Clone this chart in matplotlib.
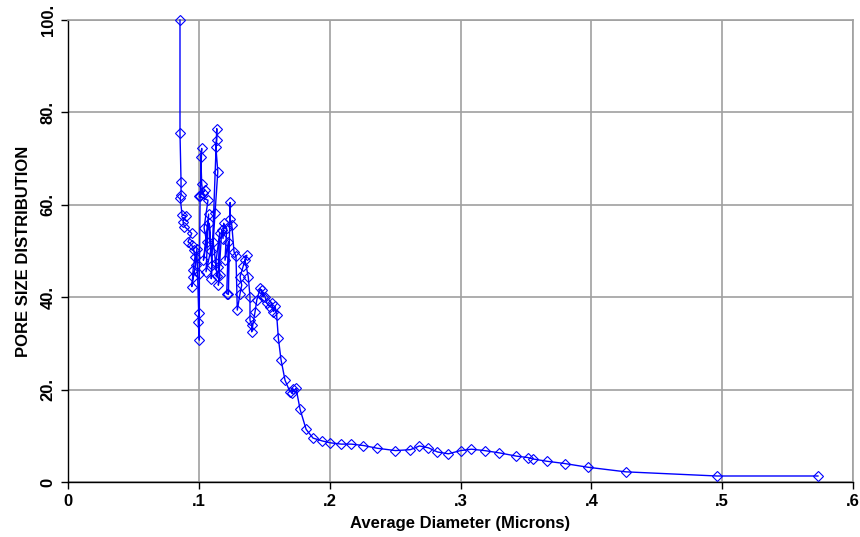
import matplotlib
matplotlib.use("Agg")
import matplotlib.pyplot as plt
from matplotlib import font_manager

# average diameter (microns) and pore size distribution, in the order they were measured
diameter = [0.0856, 0.0856, 0.0864, 0.0864, 0.0858, 0.0872, 0.0900, 0.0879, 0.0890,
            0.0946, 0.0917, 0.0946, 0.0960, 0.0971, 0.0956, 0.0953, 0.0946, 0.0975,
            0.0985, 0.0999, 0.0995, 0.1004, 0.1004, 0.1010, 0.1022, 0.1015, 0.1022,
            0.1030, 0.1047, 0.1002, 0.1070, 0.1040, 0.1060, 0.1035, 0.1075, 0.1055,
            0.1090, 0.1080, 0.1100, 0.1095, 0.1137, 0.1137, 0.1130, 0.1145, 0.1124,
            0.1110, 0.1140, 0.1130, 0.1160, 0.1149, 0.1162, 0.1149, 0.1175, 0.1185,
            0.1190, 0.1213, 0.1200, 0.1226, 0.1213, 0.1226, 0.1239, 0.1239, 0.1252,
            0.1269, 0.1284, 0.1294, 0.1315, 0.1328, 0.1315, 0.1340, 0.1366, 0.1353,
            0.1378, 0.1391, 0.1391, 0.1404, 0.1404, 0.1430, 0.1443, 0.1468, 0.1493,
            0.1480, 0.1506, 0.1519, 0.1544, 0.1557, 0.1570, 0.1583, 0.1595, 0.1608,
            0.1628, 0.1659, 0.1697, 0.1720, 0.1710, 0.1743, 0.1774, 0.1820, 0.1873,
            0.1942, 0.2000, 0.2089, 0.2166, 0.2258, 0.2365, 0.2503, 0.2617, 0.2686,
            0.2755, 0.2824, 0.2908, 0.3000, 0.3084, 0.3184, 0.3298, 0.3428, 0.3513,
            0.3551, 0.3658, 0.3796, 0.3972, 0.4263, 0.4959, 0.5732]
psd = [100.0, 75.5, 65.0, 62.1, 61.4, 57.8, 57.6, 56.3, 55.3,
       53.8, 52.0, 51.3, 50.2, 48.8, 45.9, 44.4, 42.3, 47.0,
       50.5, 36.5, 34.7, 30.7, 45.0, 62.0, 72.2, 70.4, 64.6,
       62.5, 63.2, 61.8, 61.0, 55.0, 52.0, 48.0, 58.0, 45.5,
       50.0, 56.0, 47.0, 44.0, 76.5, 74.0, 72.6, 67.2, 58.3,
       52.0, 44.5, 47.5, 54.0, 46.6, 44.8, 42.6, 54.5, 52.7,
       56.0, 54.9, 48.0, 52.0, 40.8, 40.6, 60.5, 57.0, 55.6,
       49.8, 48.9, 37.2, 40.8, 42.6, 44.4, 46.8, 49.1, 48.0,
       44.4, 40.1, 35.0, 34.0, 32.5, 36.9, 39.4, 41.9, 40.1,
       41.6, 40.1, 38.7, 37.9, 38.7, 36.9, 38.0, 36.1, 31.1,
       26.5, 22.0, 19.5, 20.1, 19.2, 20.3, 15.7, 11.4, 9.5,
       8.9, 8.5, 8.2, 8.2, 7.9, 7.3, 6.8, 7.0, 7.8,
       7.4, 6.5, 6.1, 6.8, 7.1, 6.8, 6.3, 5.6, 5.3,
       5.0, 4.5, 4.0, 3.2, 2.2, 1.3, 1.3]

xticks = [0, 0.1, 0.2, 0.3, 0.4, 0.5, 0.6]
xlabels = ["0", ".1", ".2", ".3", ".4", ".5", ".6"]
yticks = [0, 20, 40, 60, 80, 100]
ylabels = ["0", "20.", "40.", "60.", "80.", "100."]

names = {f.name for f in font_manager.fontManager.ttflist}
if "Liberation Sans Narrow" in names:
    fam = ["Liberation Sans Narrow", "DejaVu Sans"]
else:
    fam = ["Liberation Sans", "DejaVu Sans"]
plt.rcParams["font.family"] = fam

fig = plt.figure(figsize=(8.6, 5.37), dpi=100)
ax = fig.add_axes([68 / 860, 55 / 537, 785 / 860, 462 / 537])

ax.plot(diameter, psd, color="#0000ff", lw=1.0, marker="D", markersize=5,
        markerfacecolor="none", markeredgecolor="#0000ff", markeredgewidth=0.8,
        clip_on=False, zorder=3)

ax.set_xlim(0, 0.6)
ax.set_ylim(0, 100)
ax.set_xticks(xticks)
ax.set_xticklabels(xlabels, fontsize=12, fontweight="bold")
ax.set_yticks(yticks)
ax.set_yticklabels(ylabels, fontsize=12, fontweight="bold", rotation=90, va="center")
ax.tick_params(direction="out", length=5, width=1, color="black", pad=4)

ax.grid(True, color="#a0a0a0", lw=1.2)
ax.set_axisbelow(True)
for s in ["top", "right"]:
    ax.spines[s].set_color("#a0a0a0")
    ax.spines[s].set_linewidth(1.2)
for s in ["left", "bottom"]:
    ax.spines[s].set_color("black")
    ax.spines[s].set_linewidth(1.0)

ax.set_xlabel("Average Diameter (Microns)", fontsize=12, fontweight="bold", labelpad=5)
ax.set_ylabel("PORE SIZE DISTRIBUTION", fontsize=12, fontweight="bold", labelpad=7)

fig.savefig("out.png", dpi=100)
